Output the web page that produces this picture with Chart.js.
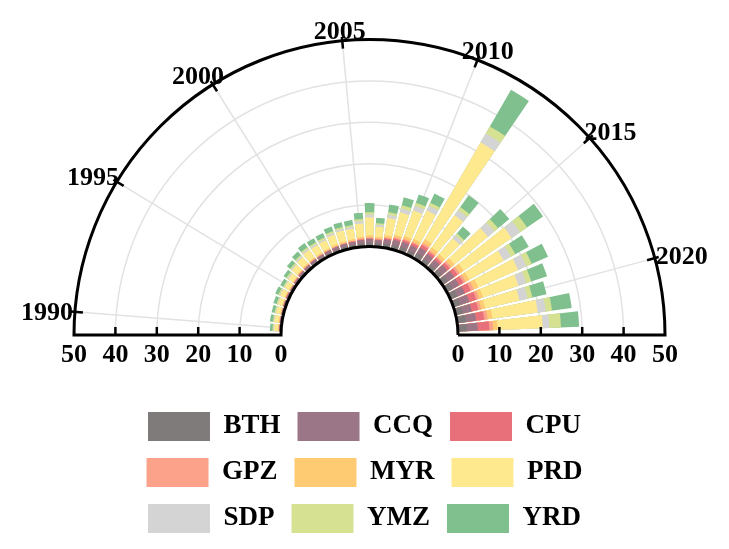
<!DOCTYPE html>
<html>
<head>
<meta charset="utf-8">
<script src="https://cdn.jsdelivr.net/npm/chart.js@4.4.1/dist/chart.umd.min.js"></script>
<style>
  html, body { margin: 0; padding: 0; background: #fff; overflow: hidden; }
</style>
</head>
<body>
<canvas id="myChart" width="729" height="549"></canvas>
<script>
"use strict";

// DATA (one value per year, 1990 -> 2022)
const years = [1990, 1991, 1992, 1993, 1994, 1995, 1996, 1997, 1998, 1999, 2000,
  2001, 2002, 2003, 2004, 2005, 2006, 2007, 2008, 2009, 2010,
  2011, 2012, 2013, 2014, 2015, 2016, 2017, 2018, 2019, 2020, 2021, 2022];
const regions = ["BTH", "CCQ", "CPU", "GPZ", "MYR", "PRD", "SDP", "YMZ", "YRD"];
const regionColors = ["#807b7b", "#9a7687", "#e8707a", "#fca28b", "#fecb73", "#ffe98f", "#d4d4d4", "#d7e192", "#80c08e"];

const bth = [0.2, 0.2, 0.2, 0.3, 0.3, 0.3, 0.3, 0.4, 0.5, 0.5, 0.5, 0.6, 0.6, 0.7, 0.7, 0.8, 0.9, 0.8, 1.0, 1.1, 1.2, 1.2, 1.5, 1.3, 1.2, 1.4, 1.6, 1.6, 1.8, 1.8, 1.8, 2.2, 2.2];
const ccq = [0.3, 0.3, 0.3, 0.3, 0.3, 0.3, 0.4, 0.5, 0.5, 0.6, 0.6, 0.6, 0.7, 0.7, 0.7, 0.8, 0.9, 0.8, 1.0, 1.2, 1.3, 1.3, 1.5, 1.4, 1.4, 1.6, 1.8, 1.8, 2.0, 2.2, 2.2, 2.4, 2.6];
const cpu = [0.0, 0.0, 0.0, 0.0, 0.1, 0.0, 0.1, 0.1, 0.1, 0.1, 0.1, 0.1, 0.1, 0.1, 0.2, 0.2, 0.2, 0.2, 0.3, 0.4, 0.5, 0.6, 0.8, 0.6, 0.6, 0.8, 1.0, 1.2, 1.5, 1.8, 1.6, 2.0, 2.8];
const gpz = [0.1, 0.1, 0.1, 0.1, 0.1, 0.1, 0.1, 0.1, 0.1, 0.1, 0.1, 0.1, 0.1, 0.1, 0.1, 0.2, 0.2, 0.2, 0.2, 0.3, 0.3, 0.3, 0.5, 0.4, 0.4, 0.5, 0.6, 0.6, 0.8, 0.7, 0.7, 0.8, 0.9];
const myr = [0.2, 0.2, 0.2, 0.2, 0.2, 0.2, 0.2, 0.3, 0.3, 0.3, 0.3, 0.3, 0.4, 0.4, 0.4, 0.4, 0.5, 0.4, 0.5, 0.6, 0.7, 0.8, 1.0, 0.9, 0.8, 1.0, 1.2, 1.0, 1.2, 1.0, 1.0, 1.2, 1.1];
const prd = [0.9, 1.0, 1.0, 1.0, 1.2, 1.2, 1.3, 1.6, 1.9, 2.2, 2.1, 2.1, 2.4, 2.6, 2.5, 3.2, 4.3, 2.4, 4.2, 5.5, 6.5, 7.5, 27.0, 9.5, 5.0, 10.5, 14.0, 9.5, 10.5, 9.0, 8.5, 11.0, 10.9];
const sdp = [0.2, 0.2, 0.2, 0.2, 0.2, 0.2, 0.3, 0.3, 0.4, 0.4, 0.4, 0.4, 0.5, 0.5, 0.5, 0.6, 0.7, 0.5, 0.8, 1.0, 1.2, 1.3, 2.5, 1.5, 1.0, 2.0, 2.5, 2.0, 2.2, 2.0, 2.0, 2.0, 1.6];
const ymz = [0.2, 0.2, 0.2, 0.2, 0.3, 0.2, 0.3, 0.3, 0.3, 0.4, 0.4, 0.4, 0.4, 0.4, 0.4, 0.5, 0.6, 0.4, 0.6, 0.8, 0.8, 0.8, 2.0, 0.9, 0.6, 1.2, 2.0, 1.2, 1.4, 1.3, 1.2, 1.5, 2.8];
const yrd = [0.6, 0.7, 0.7, 0.8, 0.8, 0.8, 0.8, 1.0, 1.1, 1.2, 1.1, 1.1, 1.2, 1.2, 1.2, 1.5, 2.2, 1.3, 1.9, 2.0, 2.1, 2.4, 10.2, 3.5, 2.2, 3.5, 4.7, 3.7, 4.3, 4.0, 3.5, 4.8, 4.4];
const seriesValues = [bth, ccq, cpu, gpz, myr, prd, sdp, ymz, yrd];

// AXES
const radialTicks = [0, 10, 20, 30, 40, 50];
const yearTicks = [1990, 1995, 2000, 2005, 2010, 2015, 2020];
const yearAxisMin = 1989.16;   // year at the left end of the half circle
const yearAxisMax = 2022.82;   // year at the right end

// LOOK
const holeRadius = 88.5;      // px, inner hole
const outerRadius = 295.5;    // px, at value 50
const centerX = 369.5, centerY = 335;
const barShare = 0.8;         // part of a year slot covered by its bar
const serif = '"Liberation Serif", "Times New Roman", serif';
const labelFont = "bold 26px " + serif;

// HELPERS
const rMax = radialTicks[radialTicks.length - 1];
const rMin = -rMax * holeRadius / (outerRadius - holeRadius);
const degPerYear = 180 / (yearAxisMax - yearAxisMin);
const yearAngle = (y) => Math.PI + (y - yearAxisMin) / (yearAxisMax - yearAxisMin) * Math.PI;

// slices: lead gap, bar, gap, bar, ... bar, tail (rest of the circle)
const sliceLabels = [];
const sliceAngles = [];
const sliceYear = [];
sliceLabels.push("");
sliceAngles.push((years[0] - yearAxisMin - barShare / 2) * degPerYear);
sliceYear.push(-1);
years.forEach((y, i) => {
  sliceLabels.push(String(y));
  sliceAngles.push(barShare * degPerYear);
  sliceYear.push(i);
  if (i < years.length - 1) {
    sliceLabels.push("");
    sliceAngles.push((1 - barShare) * degPerYear);
    sliceYear.push(-1);
  }
});
sliceLabels.push("");
sliceAngles.push((yearAxisMax - years[years.length - 1] - barShare / 2) * degPerYear + 180);
sliceYear.push(-1);

// stacked look: each dataset holds the running total, the smaller ones drawn on top
const datasets = regions.map((name, k) => ({
  label: name,
  data: sliceYear.map((yi) => {
    if (yi < 0) return null;
    let sum = 0;
    for (let j = 0; j <= k; j++) sum += seriesValues[j][yi];
    return sum;
  }),
  backgroundColor: regionColors[k],
  borderWidth: 0,
  clip: false,
  angle: (ctx) => sliceAngles[ctx.dataIndex],
}));

const polarFrame = {
  id: "polarFrame",
  beforeDatasetsDraw(chart) {
    const s = chart.scales.r;
    const ctx = chart.ctx;
    const r0 = s.getDistanceFromCenterForValue(radialTicks[0]);
    const r1 = s.getDistanceFromCenterForValue(rMax);
    ctx.save();
    ctx.strokeStyle = "#e2e2e2";
    ctx.lineWidth = 1.5;
    radialTicks.slice(1, -1).forEach((v) => {
      ctx.beginPath();
      ctx.arc(s.xCenter, s.yCenter, s.getDistanceFromCenterForValue(v), Math.PI, 2 * Math.PI);
      ctx.stroke();
    });
    yearTicks.forEach((y) => {
      const a = yearAngle(y);
      ctx.beginPath();
      ctx.moveTo(s.xCenter + r0 * Math.cos(a), s.yCenter + r0 * Math.sin(a));
      ctx.lineTo(s.xCenter + r1 * Math.cos(a), s.yCenter + r1 * Math.sin(a));
      ctx.stroke();
    });
    ctx.restore();
  },
  afterDatasetsDraw(chart) {
    const s = chart.scales.r;
    const ctx = chart.ctx;
    const cx = s.xCenter, cy = s.yCenter;
    const r0 = s.getDistanceFromCenterForValue(radialTicks[0]);
    const r1 = s.getDistanceFromCenterForValue(rMax);
    ctx.save();
    // hole
    ctx.fillStyle = "#fff";
    ctx.beginPath();
    ctx.moveTo(cx - r0, cy);
    ctx.arc(cx, cy, r0, Math.PI, 2 * Math.PI);
    ctx.closePath();
    ctx.fill();
    // frame
    ctx.strokeStyle = "#000";
    ctx.lineWidth = 3;
    ctx.lineJoin = "miter";
    ctx.beginPath();
    ctx.moveTo(cx + r0, cy);
    ctx.lineTo(cx + r1, cy);
    ctx.arc(cx, cy, r1, 0, Math.PI, true);
    ctx.lineTo(cx - r0, cy);
    ctx.arc(cx, cy, r0, Math.PI, 2 * Math.PI);
    ctx.stroke();
    // radial ticks on the base line
    ctx.lineWidth = 2.5;
    radialTicks.slice(1, -1).forEach((v) => {
      const d = s.getDistanceFromCenterForValue(v);
      [-1, 1].forEach((side) => {
        ctx.beginPath();
        ctx.moveTo(cx + side * d, cy);
        ctx.lineTo(cx + side * d, cy - 8);
        ctx.stroke();
      });
    });
    // year ticks
    yearTicks.forEach((y) => {
      const a = yearAngle(y);
      ctx.beginPath();
      ctx.moveTo(cx + (r1 - 8) * Math.cos(a), cy + (r1 - 8) * Math.sin(a));
      ctx.lineTo(cx + (r1 + 4) * Math.cos(a), cy + (r1 + 4) * Math.sin(a));
      ctx.stroke();
    });
    // labels
    ctx.fillStyle = "#000";
    ctx.font = labelFont;
    ctx.textAlign = "center";
    ctx.textBaseline = "alphabetic";
    radialTicks.forEach((v) => {
      const d = s.getDistanceFromCenterForValue(v);
      [-1, 1].forEach((side) => ctx.fillText(String(v), cx + side * d, cy + 27));
    });
    const digitH = 18;
    yearTicks.forEach((y) => {
      const a = yearAngle(y);
      const w = ctx.measureText(String(y)).width;
      const px = cx + (r1 + 2) * Math.cos(a);
      const py = cy + (r1 + 2) * Math.sin(a);
      const tx = px + Math.cos(a) * w / 2;
      const ty = py + Math.sin(a) * digitH / 2;
      ctx.fillText(String(y), tx, ty + digitH / 2);
    });
    ctx.restore();
  },
};

new Chart(document.getElementById("myChart"), {
  type: "polarArea",
  data: { labels: sliceLabels, datasets: datasets },
  options: {
    responsive: false,
    animation: false,
    events: [],
    layout: { padding: { left: 105, right: 105, top: 0, bottom: 6 } },
    scales: {
      r: {
        type: "radialLinear",
        min: rMin,
        max: rMax,
        startAngle: 270,
        ticks: { display: false },
        grid: { display: false },
        angleLines: { display: false },
        pointLabels: { display: false },
        afterFit(scale) {
          scale.xCenter = centerX;
          scale.yCenter = centerY;
          scale.drawingArea = outerRadius;
        },
      },
    },
    plugins: {
      tooltip: { enabled: false },
      legend: {
        position: "bottom",
        align: "center",
        labels: {
          boxWidth: 62,
          boxHeight: 29,
          padding: 17,
          color: "#000",
          font: { family: serif, size: 27, weight: "bold" },
          generateLabels: () => regions.map((name, i) => ({
            text: name,
            fillStyle: regionColors[i],
            strokeStyle: regionColors[i],
            fontColor: "#000",
            lineWidth: 0,
            hidden: false,
            datasetIndex: i,
          })),
        },
      },
    },
  },
  plugins: [polarFrame],
});
</script>
</body>
</html>
